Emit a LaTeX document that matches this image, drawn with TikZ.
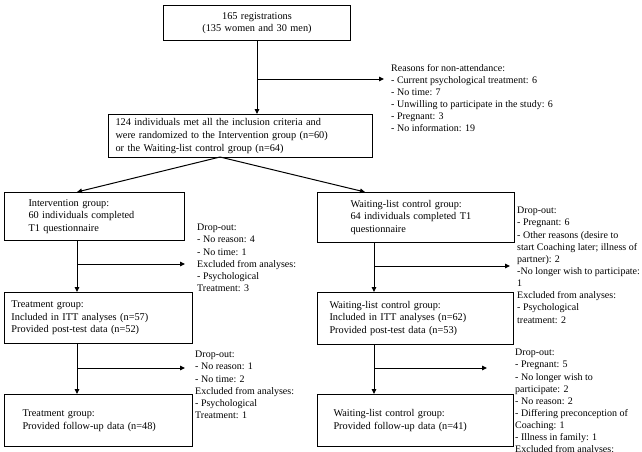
\documentclass[tikz,border=0pt]{standalone}
\usepackage{fontspec}
\setmainfont{Liberation Serif}
\usetikzlibrary{arrows.meta}
\newcommand{\boxfont}{\fontsize{10.3pt}{12.6pt}\selectfont}
\newcommand{\sidefont}{\fontsize{10pt}{12.15pt}\selectfont}
\begin{document}
\begin{tikzpicture}[x=1pt,y=-1pt,
  box/.style={draw, line width=1pt, anchor=north west, align=left, inner ysep=0pt, font=\boxfont},
  txt/.style={anchor=north west, align=left, inner sep=0pt, font=\sidefont},
  arr/.style={line width=1pt, -{Triangle[length=5pt,width=4.5pt]}}]
\useasboundingbox (0,0) rectangle (642,451);
\fill[white] (0,0) rectangle (642,451);

% boxes
\node[box, align=center, minimum width=187pt, minimum height=35pt, text width=181pt, inner xsep=3pt] (top) at (163,5)
  {165 registrations\\(135 women and 30 men)};
\node[box, minimum width=264pt, minimum height=43pt, inner xsep=7pt, text width=250pt] (rand) at (108,114)
  {124 individuals met all the inclusion criteria and\\were randomized to the Intervention group (n=60)\\or the Waiting-list control group (n=64)};
\node[box, minimum width=180pt, minimum height=48pt, inner xsep=24pt, text width=132pt] (int) at (4,192)
  {Intervention group:\\60 individuals completed\\T1 questionnaire};
\node[box, minimum width=197pt, minimum height=50pt, inner xsep=33pt, text width=131pt] (wl1) at (317,192)
  {Waiting-list control group:\\64 individuals completed T1\\questionnaire};
\node[box, minimum width=188pt, minimum height=51pt, inner xsep=7pt, text width=174pt] (trt) at (4,292)
  {Treatment group:\\Included in ITT analyses (n=57)\\Provided post-test data (n=52)};
\node[box, minimum width=196pt, minimum height=52pt, inner xsep=12pt, text width=172pt] (wl2) at (317,292)
  {Waiting-list control group:\\Included in ITT analyses (n=62)\\Provided post-test data (n=53)};
\node[box, minimum width=188pt, minimum height=52pt, inner xsep=18pt, text width=152pt] (fu1) at (4,394)
  {Treatment group:\\Provided follow-up data (n=48)};
\node[box, minimum width=196pt, minimum height=52pt, inner xsep=16pt, text width=164pt] (fu2) at (317,394)
  {Waiting-list control group:\\Provided follow-up data (n=41)};

% side texts
\node[txt] (reasons) at (391,64)
  {Reasons for non-attendance:\\- Current psychological treatment: 6\\- No time: 7\\- Unwilling to participate in the study: 6\\- Pregnant: 3\\- No information: 19};
\node[txt] (drop1) at (197,224)
  {Drop-out:\\- No reason: 4\\- No time: 1\\Excluded from analyses:\\- Psychological\\Treatment: 3};
\node[txt] (drop2) at (517,207)
  {Drop-out:\\- Pregnant: 6\\- Other reasons (desire to\\start Coaching later; illness of\\partner): 2\\-No longer wish to participate:\\1\\Excluded from analyses:\\- Psychological\\treatment: 2};
\node[txt] (drop3) at (195,351)
  {Drop-out:\\- No reason: 1\\- No time: 2\\Excluded from analyses:\\- Psychological\\Treatment: 1};
\node[txt] (drop4) at (515,349)
  {Drop-out:\\- Pregnant: 5\\- No longer wish to\\participate: 2\\- No reason: 2\\- Differing preconception of\\Coaching: 1\\- Illness in family: 1\\Excluded from analyses:};

% branch points
\coordinate (s0) at (257,79);
\coordinate (e0) at (384,79);
\coordinate (split) at (220,157);
\coordinate (t2) at (365,192);
\coordinate (s1) at (77,264);
\coordinate (e1) at (185,264);
\coordinate (s2) at (374,266);
\coordinate (e2) at (510,266);
\coordinate (s3) at (77,368);
\coordinate (e3) at (185,368);
\coordinate (s4) at (374,368);
\coordinate (e4) at (487,368);

% connectors
\draw[arr] (s0 |- top.south) -- (s0 |- rand.north);
\draw[arr] (s0) -- (e0);
\draw[arr] (split) -- (s1 |- int.north);
\draw[arr] (split) -- (t2);
\draw[arr] (s1 |- int.south) -- (s1 |- trt.north);
\draw[arr] (s1) -- (e1);
\draw[arr] (s2 |- wl1.south) -- (s2 |- wl2.north);
\draw[arr] (s2) -- (e2);
\draw[arr] (s3 |- trt.south) -- (s3 |- fu1.north);
\draw[arr] (s3) -- (e3);
\draw[arr] (s4 |- wl2.south) -- (s4 |- fu2.north);
\draw[arr] (s4) -- (e4);
\end{tikzpicture}
\end{document}
